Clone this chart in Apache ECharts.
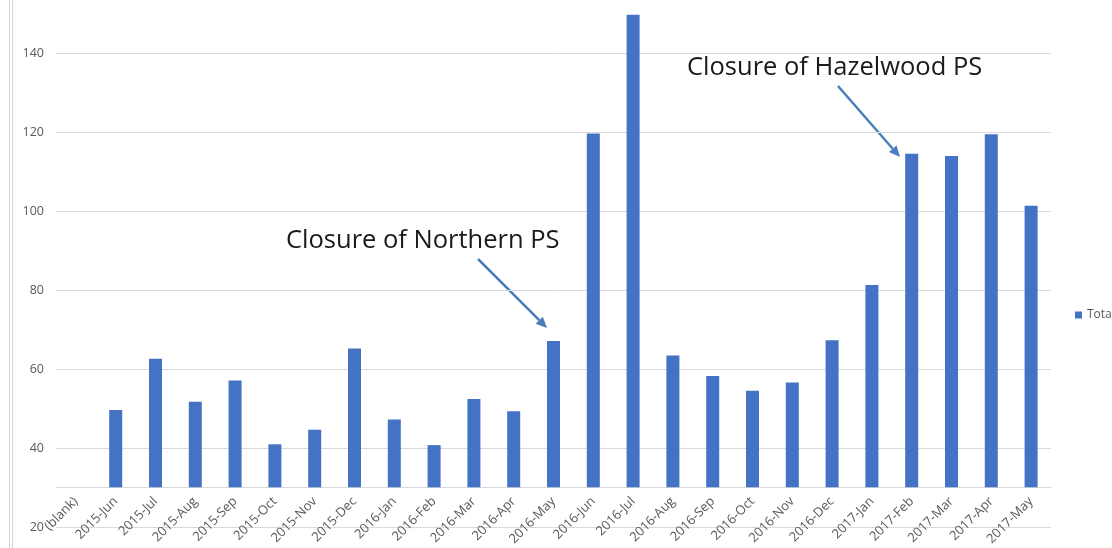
<!DOCTYPE html>
<html>
<head>
<meta charset="utf-8">
<script src="https://cdn.jsdelivr.net/npm/echarts@6/dist/echarts.min.js"></script>
<style>
  html, body { margin: 0; padding: 0; background: #fff; }
  #chart { width: 1112px; height: 548px; }
</style>
</head>
<body>
<div id="chart"></div>
<script>
// categories and values
const categories = ['(blank)',
  '2015-Jun', '2015-Jul', '2015-Aug', '2015-Sep', '2015-Oct', '2015-Nov', '2015-Dec',
  '2016-Jan', '2016-Feb', '2016-Mar', '2016-Apr', '2016-May', '2016-Jun', '2016-Jul',
  '2016-Aug', '2016-Sep', '2016-Oct', '2016-Nov', '2016-Dec',
  '2017-Jan', '2017-Feb', '2017-Mar', '2017-Apr', '2017-May']
const totals = [null,
  49.6, 62.6, 51.7, 57.1, 40.9, 44.6, 65.2,
  47.2, 40.7, 52.4, 49.3, 67.1, 119.7, 149.8,
  63.4, 58.2, 54.5, 56.6, 67.3,
  81.3, 114.6, 114.0, 119.5, 101.4]
// value axis: labels 20..140, bars start at 30 (where the category axis crosses)
const yMin = 20
const yMax = 150
const yStep = 20
const barBase = 30

const gridTop = 14
const gridBottom = 20.7
const pxPerUnit = (548 - gridTop - gridBottom) / (yMax - yMin)
const barGridBottom = gridBottom + (barBase - yMin) * pxPerUnit

const labelColor = '#595959'
const lineColor = '#d9d9d9'
const arrowColor = '#4a7ebb'

// arrow from (x1,y1) to tip (x2,y2)
function arrow(x1, y1, x2, y2) {
  const a = Math.atan2(y2 - y1, x2 - x1)
  const len = 11, half = 5
  const bx = x2 - len * Math.cos(a), by = y2 - len * Math.sin(a)
  const px = -Math.sin(a) * half, py = Math.cos(a) * half
  return {
    type: 'group',
    silent: true,
    children: [
      { type: 'line', shape: { x1: x1, y1: y1, x2: bx, y2: by }, style: { stroke: arrowColor, lineWidth: 2.5 } },
      { type: 'polygon', shape: { points: [[x2, y2], [bx + px, by + py], [bx - px, by - py]] }, style: { fill: arrowColor } }
    ]
  }
}

let myChart = echarts.init(document.getElementById('chart'))
let option = {
  animation: false,
  textStyle: { fontFamily: 'Open Sans' },
  legend: {
    data: ['Total'],
    left: 1070,
    top: 304,
    icon: 'rect',
    itemWidth: 7,
    itemHeight: 7,
    textStyle: { color: labelColor, fontSize: 12, fontFamily: 'Open Sans' }
  },
  grid: [
    { left: 56, right: 61, top: gridTop, bottom: gridBottom },
    { left: 56, right: 61, top: gridTop, bottom: barGridBottom }
  ],
  xAxis: [
    { gridIndex: 0, type: 'category', data: categories, show: false },
    {
      gridIndex: 1,
      type: 'category',
      data: categories,
      axisLine: { show: true, lineStyle: { color: lineColor } },
      axisTick: { show: false },
      axisLabel: { interval: 0, rotate: 45, margin: 12, color: labelColor, fontSize: 13 }
    }
  ],
  yAxis: [
    {
      gridIndex: 0,
      type: 'value',
      min: yMin,
      max: yMax,
      interval: yStep,
      axisLine: { show: false },
      axisTick: { show: false },
      axisLabel: { color: labelColor, fontSize: 12.5, margin: 12, showMaxLabel: false },
      splitLine: { show: true, showMaxLine: false, lineStyle: { color: lineColor } }
    },
    { gridIndex: 1, type: 'value', min: barBase, max: yMax, show: false, splitLine: { show: false } }
  ],
  series: [
    {
      name: 'Total',
      type: 'bar',
      xAxisIndex: 1,
      yAxisIndex: 1,
      barWidth: 13,
      itemStyle: { color: '#4472c4' },
      data: totals
    }
  ],
  graphic: [
    { type: 'line', shape: { x1: 9.5, y1: 0, x2: 9.5, y2: 548 }, style: { stroke: '#d4d4d4', lineWidth: 1 }, silent: true },
    { type: 'line', shape: { x1: 12.5, y1: 0, x2: 12.5, y2: 548 }, style: { stroke: '#d4d4d4', lineWidth: 1 }, silent: true },
    {
      type: 'text', x: 286, y: 241, silent: true,
      style: { text: 'Closure of Northern PS', fill: '#1a1a1a', fontSize: 25.5, fontFamily: 'Open Sans', verticalAlign: 'middle' }
    },
    {
      type: 'text', x: 687, y: 68, silent: true,
      style: { text: 'Closure of Hazelwood PS', fill: '#1a1a1a', fontSize: 25.5, fontFamily: 'Open Sans', verticalAlign: 'middle' }
    },
    arrow(478, 259, 547, 328),
    arrow(838, 86, 900, 157)
  ]
}
option && myChart.setOption(option)
</script>
</body>
</html>
